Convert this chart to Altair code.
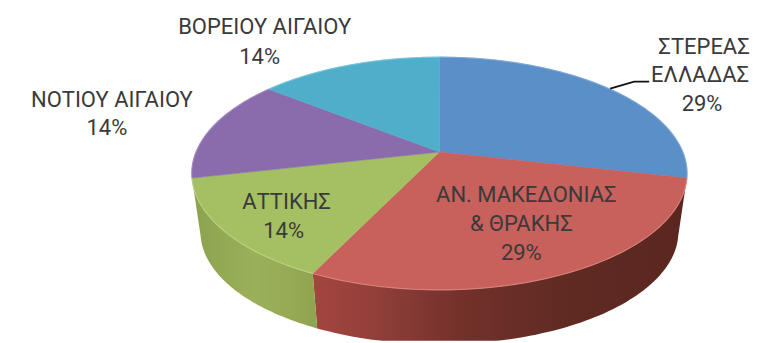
import numpy as np
import pandas as pd
import altair as alt

regions = ["ΣΤΕΡΕΑΣ ΕΛΛΑΔΑΣ", "ΑΝ. ΜΑΚΕΔΟΝΙΑΣ & ΘΡΑΚΗΣ", "ΑΤΤΙΚΗΣ", "ΝΟΤΙΟΥ ΑΙΓΑΙΟΥ", "ΒΟΡΕΙΟΥ ΑΙΓΑΙΟΥ"]
counts = [2, 2, 1, 1, 1]
colors = ["#5b8fc8", "#c8605b", "#a4c063", "#8a6cad", "#4fafca"]
rims = ["#7ba6d6", "#d98480", "#bcd388", "#a48bc2", "#78c4da"]

label_lines = ["ΣΤΕΡΕΑΣ", "ΕΛΛΑΔΑΣ", "29%", "ΑΝ. ΜΑΚΕΔΟΝΙΑΣ", "& ΘΡΑΚΗΣ", "29%", "ΑΤΤΙΚΗΣ", "14%",
               "ΝΟΤΙΟΥ ΑΙΓΑΙΟΥ", "14%", "ΒΟΡΕΙΟΥ ΑΙΓΑΙΟΥ", "14%"]
label_x = [705, 701, 703, 527, 522, 522, 287, 284, 112, 107, 265, 260]
label_y = [47, 75, 104, 195, 224, 253, 202, 231, 100, 128, 27, 57]

leader_x = [611, 635, 650]
leader_y = [88.5, 81.5, 81.5]

# 3D view of the pie: disc centre on screen, radius, tilt and perspective
CX, CY = 440.0, 152.0
R, A, C = 243.7, -84.5, 0.1845
DEPTH_K, TOP_MID, BOT_MID = 0.965, 173.5, 232.0


def top(t):
    u, v = np.cos(t), np.sin(t)
    d = 1 + C * v
    return CX + R * u / d, (CY + A * v) / d


def bottom(t):
    x, y = top(t)
    return CX + (x - CX) * DEPTH_K, BOT_MID + (y - TOP_MID) * 0.965


fractions = np.array(counts) / sum(counts)
edges = np.pi / 2 - 2 * np.pi * np.concatenate([[0], np.cumsum(fractions)])
SCALE_X = alt.Scale(domain=[8, 750], nice=False, zero=False)
SCALE_Y = alt.Scale(domain=[341, 8], nice=False, zero=False)


def poly(xs, ys, **props):
    df = pd.DataFrame({"x": xs, "y": ys, "o": np.arange(len(xs))})
    return alt.Chart(df).mark_line(clip=True, interpolate="linear", **props).encode(
        x=alt.X("x:Q", scale=SCALE_X, axis=None),
        y=alt.Y("y:Q", scale=SCALE_Y, axis=None),
        order="o:Q",
    )


def grad(stops):
    return alt.Gradient(
        gradient="linear", x1=0, y1=0, x2=1, y2=0,
        stops=[alt.GradientStop(offset=o, color=c) for o, c in stops],
    )


layers = []
wall_stops = {
    1: [(0, "#a5443f"), (0.15, "#93403b"), (0.4, "#72312a"), (0.7, "#5e2a22"), (1, "#5a261f")],
    2: [(0, "#8ca24f"), (0.5, "#9ab059"), (0.8, "#96aa55"), (1, "#8fa350")],
}
for i in (1, 2):
    t = np.linspace(edges[i], edges[i + 1], 80)
    xt, yt = top(t)
    xb, yb = bottom(t)
    layers.append(poly(np.r_[xt, xb[::-1]], np.r_[yt, yb[::-1]],
                       fill=grad(wall_stops[i]), stroke=None))

for i, col in enumerate(colors):
    t = np.linspace(edges[i], edges[i + 1], 80)
    xt, yt = top(t)
    layers.append(poly(np.r_[CX, xt, CX], np.r_[CY, yt, CY], fill=col, stroke=col, strokeWidth=0.5))
for i, col in enumerate(rims):
    t = np.linspace(edges[i], edges[i + 1], 80)
    xt, yt = top(t)
    layers.append(poly(xt, yt, stroke=col, strokeWidth=1.2, opacity=0.8))

layers.append(poly(leader_x, leader_y, stroke="#111111", strokeWidth=1.6))

labels = alt.Chart(pd.DataFrame({"t": label_lines, "x": label_x, "y": label_y})).mark_text(
    font="Roboto", fontSize=22, fontWeight=400, color="#3a3a3a", align="center", baseline="middle"
).encode(
    x=alt.X("x:Q", scale=SCALE_X, axis=None),
    y=alt.Y("y:Q", scale=SCALE_Y, axis=None),
    text="t:N",
)
layers.append(labels)

chart = alt.layer(*layers).properties(width=742, height=333, padding=0).configure_view(stroke=None)
chart.save("out.html", embed_options={"renderer": "svg", "actions": False})
